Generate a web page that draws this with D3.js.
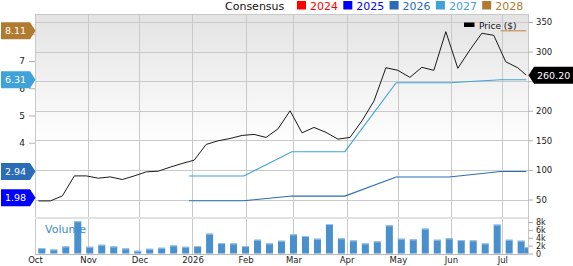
<!DOCTYPE html>
<html>
<head>
<meta charset="utf-8">
<script src="https://cdn.jsdelivr.net/npm/d3@7"></script>
<style>
  body { margin: 0; background: #fff; }
  svg { display: block; font-family: "DejaVu Sans", sans-serif; }
</style>
</head>
<body>
<script>
// weekly closing price
var priceDates = ["2025-10-03", "2025-10-10", "2025-10-17", "2025-10-24", "2025-10-31",
  "2025-11-07", "2025-11-14", "2025-11-21", "2025-11-28", "2025-12-05", "2025-12-12",
  "2025-12-19", "2025-12-26", "2026-01-02", "2026-01-09", "2026-01-16", "2026-01-23",
  "2026-01-30", "2026-02-06", "2026-02-13", "2026-02-20", "2026-02-27", "2026-03-06",
  "2026-03-13", "2026-03-20", "2026-03-27", "2026-04-03", "2026-04-10", "2026-04-17",
  "2026-04-24", "2026-05-01", "2026-05-08", "2026-05-15", "2026-05-22", "2026-05-29",
  "2026-06-05", "2026-06-12", "2026-06-19", "2026-06-26", "2026-07-03", "2026-07-10",
  "2026-07-15"];
var priceValues = [47.6, 47.6, 56.1, 89.9, 89.9, 86.0, 88.2, 83.8, 89.9, 96.7,
  97.9, 104.7, 110.9, 116.5, 143.1, 149.2, 153.2, 158.3, 160.0, 154.9,
  169.5, 199.9, 162.7, 171.8, 163.4, 152.0, 154.9, 183.0, 216.3, 272.7,
  268.3, 256.4, 273.4, 268.3, 333.6, 271.7, 302.6, 330.9, 327.5, 282.8,
  272.7, 260.2];

// weekly volume (thousands)
var volumeDates = ["2025-10-05", "2025-10-12", "2025-10-19", "2025-10-26", "2025-11-02",
  "2025-11-09", "2025-11-16", "2025-11-23", "2025-11-30", "2025-12-07", "2025-12-14",
  "2025-12-21", "2025-12-28", "2026-01-04", "2026-01-11", "2026-01-18", "2026-01-25",
  "2026-02-01", "2026-02-08", "2026-02-15", "2026-02-22", "2026-03-01", "2026-03-08",
  "2026-03-15", "2026-03-22", "2026-03-29", "2026-04-05", "2026-04-12", "2026-04-19",
  "2026-04-26", "2026-05-03", "2026-05-10", "2026-05-17", "2026-05-24", "2026-05-31",
  "2026-06-07", "2026-06-14", "2026-06-21", "2026-06-28", "2026-07-05", "2026-07-12",
  "2026-07-16"];
var volumeValues = [1.36, 1.02, 1.79, 8.2, 1.71, 2.22, 1.79, 1.28, 0.69, 1.2,
  1.46, 2.05, 1.71, 1.87, 5.04, 2.63, 2.56, 1.87, 3.5, 2.56,
  3.25, 4.86, 4.42, 3.76, 7.49, 3.84, 3.32, 2.56, 3.07, 7.16,
  3.76, 3.58, 6.32, 3.5, 3.84, 3.4, 3.32, 2.56, 7.34, 3.5,
  3.25, 1.61];

// consensus eps estimates
var epsDates = ["2025-12-30", "2026-01-31", "2026-02-28", "2026-03-31",
  "2026-04-30", "2026-05-31", "2026-06-30", "2026-07-15"];
var eps2026 = [1.87, 1.87, 2.04, 2.04, 2.74, 2.74, 2.94, 2.94];
var eps2027 = [2.78, 2.78, 3.67, 3.67, 6.20, 6.20, 6.31, 6.31];
var eps2028Dates = ["2026-06-30", "2026-07-15"];
var eps2028 = [8.11, 8.11];

var years = ["2024", "2025", "2026", "2027", "2028"];
var yearColors = ["#ff0000", "#0000ff", "#2b6cb7", "#3fa2d9", "#b07a30"];
var badgeYears = ["2028", "2027", "2026", "2025"];
var badgeValues = [8.11, 6.31, 2.94, 1.98];

var priceTicks = [50, 100, 150, 200, 250, 300, 350];
var epsTicks = [2, 3, 4, 5, 6, 7, 8];
var epsLabels = [4, 5, 6, 7];
var volumeTicks = [0, 2, 4, 6, 8];

// dimensions
var width = 573;
var height = 266;
var left = 35;
var right = 528;
var priceTop = 14;
var priceBottom = 217;
var volTop = 219;
var volBottom = 254;

var parse = d3.timeParse("%Y-%m-%d");
var gridColor = "#c9c9c9";

window.onload = function() {

  var x = d3.scaleTime()
    .domain([parse("2025-10-01"), parse("2026-07-16")])
    .range([left, right]);
  var yPrice = d3.scaleLinear().domain([50, 350]).range([199.5, 22]);
  var yEps = d3.scaleLinear().domain([4, 7]).range([142.7, 61]);
  var yVol = d3.scaleLinear().domain([0, 8]).range([253.5, 222]);

  var svg = d3.select("body")
    .append("svg")
    .attr("width", width)
    .attr("height", height);

  var defs = svg.append("defs");
  var grad = defs.append("linearGradient")
    .attr("id", "bg")
    .attr("x1", 0).attr("y1", 0).attr("x2", 0).attr("y2", 1);
  grad.append("stop").attr("offset", "0%").attr("stop-color", "#e3e3e3");
  grad.append("stop").attr("offset", "65%").attr("stop-color", "#ffffff");

  defs.append("clipPath").attr("id", "clipPrice")
    .append("rect")
    .attr("x", left).attr("y", priceTop)
    .attr("width", right - left).attr("height", priceBottom - priceTop);
  defs.append("clipPath").attr("id", "clipVol")
    .append("rect")
    .attr("x", left).attr("y", volTop)
    .attr("width", right - left).attr("height", volBottom - volTop);

  // price pane background
  svg.append("rect")
    .attr("x", left).attr("y", priceTop)
    .attr("width", right - left).attr("height", priceBottom - priceTop)
    .attr("fill", "url(#bg)");

  // vertical grid at month starts
  var months = x.ticks(d3.timeMonth.every(1));
  svg.append("g")
    .selectAll("line")
    .data(months)
    .enter()
    .append("line")
    .attr("x1", function(d) { return Math.round(x(d)) + 0.5; })
    .attr("x2", function(d) { return Math.round(x(d)) + 0.5; })
    .attr("y1", priceTop)
    .attr("y2", volBottom)
    .attr("stroke", gridColor);

  // right border
  svg.append("line")
    .attr("x1", right + 0.5).attr("x2", right + 0.5)
    .attr("y1", priceTop).attr("y2", volBottom)
    .attr("stroke", gridColor);

  // horizontal grid from price ticks
  svg.append("g")
    .selectAll("line")
    .data(priceTicks)
    .enter()
    .append("line")
    .attr("x1", left).attr("x2", right)
    .attr("y1", function(d) { return Math.round(yPrice(d)) + 0.5; })
    .attr("y2", function(d) { return Math.round(yPrice(d)) + 0.5; })
    .attr("stroke", gridColor);

  // top border
  svg.append("line")
    .attr("x1", left).attr("x2", right)
    .attr("y1", priceTop + 0.5).attr("y2", priceTop + 0.5)
    .attr("stroke", gridColor);

  // separator between price and volume
  svg.append("rect")
    .attr("x", left).attr("y", priceBottom)
    .attr("width", right - left).attr("height", volTop - priceBottom)
    .attr("fill", "#e2e2e2");

  // volume bars
  var volData = volumeDates.map(function(d, i) {
    return {date: parse(d), value: volumeValues[i]};
  });
  var bars = svg.append("g").attr("clip-path", "url(#clipVol)");
  bars.selectAll("rect.bar")
    .data(volData)
    .enter()
    .append("rect")
    .attr("class", "bar")
    .attr("x", function(d) { return x(d.date) - 3.5; })
    .attr("y", function(d) { return yVol(d.value); })
    .attr("width", 7)
    .attr("height", function(d) { return yVol(0) - yVol(d.value); })
    .attr("fill", "#4a90cd");
  bars.selectAll("rect.cap")
    .data(volData)
    .enter()
    .append("rect")
    .attr("class", "cap")
    .attr("x", function(d) { return x(d.date) - 3.5; })
    .attr("y", function(d) { return yVol(d.value); })
    .attr("width", 7)
    .attr("height", 1)
    .attr("fill", "#9cc6ea");

  svg.append("text")
    .attr("x", 45)
    .attr("y", 233)
    .attr("font-size", 11)
    .attr("fill", "#3c8ccf")
    .text("Volume");

  // eps lines
  var lines = svg.append("g").attr("clip-path", "url(#clipPrice)");
  var epsLine = d3.line()
    .x(function(d) { return x(d.date); })
    .y(function(d) { return yEps(d.value); });

  function series(dates, values) {
    return dates.map(function(d, i) { return {date: parse(d), value: values[i]}; });
  }

  lines.append("path")
    .datum(series(epsDates, eps2026))
    .attr("d", epsLine)
    .attr("fill", "none")
    .attr("stroke", yearColors[2])
    .attr("stroke-width", 1.1);
  lines.append("path")
    .datum(series(epsDates, eps2027))
    .attr("d", epsLine)
    .attr("fill", "none")
    .attr("stroke", yearColors[3])
    .attr("stroke-width", 1.1);
  lines.append("path")
    .datum(series(eps2028Dates, eps2028))
    .attr("d", epsLine)
    .attr("fill", "none")
    .attr("stroke", "#c99a62")
    .attr("stroke-width", 1.3);

  // price line
  var priceLine = d3.line()
    .x(function(d) { return x(d.date); })
    .y(function(d) { return yPrice(d.value); });
  lines.append("path")
    .datum(series(priceDates, priceValues))
    .attr("d", priceLine)
    .attr("fill", "none")
    .attr("stroke", "#1a1a1a")
    .attr("stroke-width", 1);

  // right price axis, 250 sits under the price badge
  var priceAxis = d3.axisRight(yPrice)
    .tickValues(priceTicks)
    .tickSize(5)
    .tickPadding(3)
    .tickFormat(function(d) { return d === 250 ? "" : d; });
  var pa = svg.append("g")
    .attr("transform", "translate(" + right + ",0)")
    .call(priceAxis);

  // right volume axis
  var volAxis = d3.axisRight(yVol)
    .tickValues(volumeTicks)
    .tickSize(5)
    .tickPadding(3)
    .tickFormat(function(d) { return d === 0 ? "0" : d + "k"; });
  var va = svg.append("g")
    .attr("transform", "translate(" + right + ",0)")
    .call(volAxis);

  // left eps axis, labels under the badges are left out
  var epsAxis = d3.axisLeft(yEps)
    .tickValues(epsTicks)
    .tickSize(6)
    .tickPadding(4)
    .tickFormat(function(d) { return epsLabels.indexOf(d) >= 0 ? d : ""; });
  var ea = svg.append("g")
    .attr("transform", "translate(" + left + ",0)")
    .call(epsAxis);

  // bottom date axis
  var dateAxis = d3.axisBottom(x)
    .tickValues(months)
    .tickSize(0)
    .tickPadding(3)
    .tickFormat(function(d) {
      return d.getMonth() === 0 ? d3.timeFormat("%Y")(d) : d3.timeFormat("%b")(d);
    });
  var da = svg.append("g")
    .attr("transform", "translate(0," + volBottom + ")")
    .call(dateAxis);

  [pa, va, ea, da].forEach(function(g) {
    g.select(".domain").remove();
    g.selectAll(".tick line").attr("stroke", "#b0b0b0");
    g.selectAll("text").attr("fill", "#1a1a1a").attr("font-family", "DejaVu Sans");
  });
  pa.selectAll("text").attr("font-size", 8.5);
  va.selectAll("text").attr("font-size", 8);
  ea.selectAll("text").attr("font-size", 9);
  da.selectAll("text").attr("font-size", 8.5);

  // bottom axis line
  svg.append("line")
    .attr("x1", left).attr("x2", right)
    .attr("y1", volBottom + 0.5).attr("y2", volBottom + 0.5)
    .attr("stroke", "#b8b8b8");

  // left eps badges
  var badge = svg.append("g")
    .selectAll("g")
    .data(badgeValues)
    .enter()
    .append("g")
    .attr("transform", function(d) { return "translate(0," + yEps(d) + ")"; });
  badge.append("path")
    .attr("d", "M1,-8.5L30,-8.5L35.5,0L30,8.5L1,8.5Z")
    .attr("fill", function(d, i) {
      return yearColors[years.indexOf(badgeYears[i])];
    });
  badge.append("text")
    .attr("x", 5)
    .attr("dy", "0.36em")
    .attr("font-size", 9.5)
    .attr("fill", "#fff")
    .text(function(d) { return d3.format(".2f")(d); });

  // last price badge
  var last = priceValues[priceValues.length - 1];
  var pb = svg.append("g")
    .attr("transform", "translate(0," + yPrice(last) + ")");
  pb.append("path")
    .attr("d", "M528.5,0L534,-8.5L573,-8.5L573,8.5L534,8.5Z")
    .attr("fill", "#000");
  pb.append("text")
    .attr("x", 537)
    .attr("dy", "0.36em")
    .attr("font-size", 9.5)
    .attr("fill", "#fff")
    .text(d3.format(".2f")(last));

  // price legend
  svg.append("rect")
    .attr("x", 464).attr("y", 22.5)
    .attr("width", 10.5).attr("height", 4.5)
    .attr("fill", "#000");
  svg.append("text")
    .attr("x", 479).attr("y", 29)
    .attr("font-size", 9)
    .attr("fill", "#111")
    .text("Price ($)");

  // consensus legend
  svg.append("text")
    .attr("x", 225).attr("y", 9.5)
    .attr("font-size", 11)
    .attr("fill", "#111")
    .text("Consensus");
  var leg = svg.append("g")
    .selectAll("g")
    .data(years)
    .enter()
    .append("g")
    .attr("transform", function(d, i) { return "translate(" + (297 + i * 46.3) + ",0)"; });
  leg.append("rect")
    .attr("x", 0).attr("y", 1)
    .attr("width", 9).attr("height", 8.5)
    .attr("fill", function(d, i) { return yearColors[i]; });
  leg.append("text")
    .attr("x", 13).attr("y", 9.5)
    .attr("font-size", 11)
    .attr("fill", function(d, i) { return yearColors[i]; })
    .text(function(d) { return d; });
};
</script>
</body>
</html>
